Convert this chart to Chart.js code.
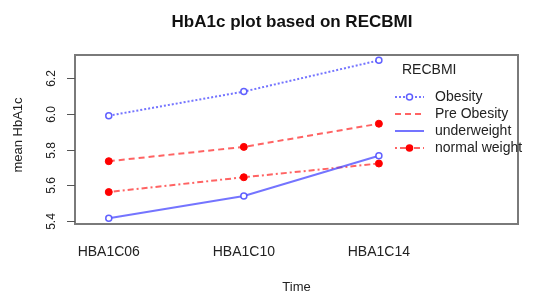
<!DOCTYPE html>
<html>
<head>
<meta charset="utf-8">
<script src="https://cdn.jsdelivr.net/npm/chart.js@4.4.1/dist/chart.umd.min.js"></script>
<style>
  html, body { margin: 0; padding: 0; background: #fff; }
  #wrap { width: 535px; height: 299px; }
</style>
</head>
<body>
<div id="wrap"><canvas id="hba1cChart"></canvas></div>
<script>
// data
const timePoints = ["HBA1C06", "HBA1C10", "HBA1C14"];
const obesity = [5.99, 6.125, 6.30];
const preObesity = [5.735, 5.815, 5.945];
const underweight = [5.415, 5.54, 5.765];
const normalWeight = [5.562, 5.645, 5.722];
const yTicks = [5.4, 5.6, 5.8, 6.0, 6.2];

const FONT = '"Liberation Sans", Arial, sans-serif';

function toPoints(values) {
    return values.map((v, i) => ({ x: i + 1, y: v }));
}

// axes, box, titles and legend drawn the R way
const rStylePlugin = {
    id: 'rStyle',
    afterDraw(chart) {
        const ctx = chart.ctx;
        const area = chart.chartArea;
        const xs = chart.scales.x;
        const ys = chart.scales.y;
        ctx.save();

        // box
        ctx.strokeStyle = '#7a7a7a';
        ctx.lineWidth = 2;
        ctx.strokeRect(area.left, area.top, area.right - area.left, area.bottom - area.top);

        // y ticks + rotated labels
        ctx.strokeStyle = '#555';
        ctx.lineWidth = 1;
        ctx.fillStyle = '#222';
        ctx.font = '12px ' + FONT;
        ctx.textAlign = 'center';
        ctx.textBaseline = 'middle';
        yTicks.forEach(t => {
            const py = Math.round(ys.getPixelForValue(t)) + 0.5;
            ctx.beginPath();
            ctx.moveTo(area.left - 8, py);
            ctx.lineTo(area.left, py);
            ctx.stroke();
            ctx.save();
            ctx.translate(area.left - 23, py);
            ctx.rotate(-Math.PI / 2);
            ctx.fillText(t.toFixed(1), 0, 0);
            ctx.restore();
        });

        // x labels, no tick marks
        ctx.font = '14px ' + FONT;
        timePoints.forEach((lab, i) => {
            ctx.fillText(lab, xs.getPixelForValue(i + 1), 252);
        });

        // axis titles
        ctx.font = '13px ' + FONT;
        ctx.fillText('Time', (area.left + area.right) / 2, 287);
        ctx.save();
        ctx.translate(18, 135);
        ctx.rotate(-Math.PI / 2);
        ctx.fillText('mean HbA1c', 0, 0);
        ctx.restore();

        // main title
        ctx.font = 'bold 17px ' + FONT;
        ctx.fillStyle = '#111';
        ctx.fillText('HbA1c plot based on RECBMI', 292, 22);

        // legend
        ctx.fillStyle = '#222';
        ctx.font = '14px ' + FONT;
        ctx.textAlign = 'left';
        ctx.fillText('RECBMI', 402, 70);
        chart.data.datasets.forEach((ds, i) => {
            const ly = 97 + i * 17;
            ctx.save();
            ctx.strokeStyle = ds.borderColor;
            ctx.lineWidth = ds.borderWidth;
            ctx.setLineDash(ds.borderDash || []);
            ctx.beginPath();
            ctx.moveTo(395, ly);
            ctx.lineTo(424, ly);
            ctx.stroke();
            ctx.restore();
            if (ds.legendMarker) {
                ctx.save();
                ctx.beginPath();
                ctx.arc(409.5, ly, 3, 0, Math.PI * 2);
                ctx.fillStyle = ds.pointBackgroundColor;
                ctx.fill();
                ctx.strokeStyle = ds.pointBorderColor;
                ctx.lineWidth = 1.5;
                ctx.stroke();
                ctx.restore();
            }
            ctx.fillStyle = '#222';
            ctx.fillText(ds.label, 435, ly);
        });
        ctx.restore();
    }
};

const blueLine = 'rgba(70, 70, 255, 0.75)';
const blueDot = 'rgba(80, 80, 255, 0.9)';
const redLine = 'rgba(255, 60, 60, 0.8)';
const redDot = '#ff0000';

new Chart(document.getElementById('hba1cChart').getContext('2d'), {
    type: 'line',
    data: {
        datasets: [
            {
                label: 'Obesity',
                data: toPoints(obesity),
                borderColor: blueLine,
                borderWidth: 2,
                borderDash: [2, 2],
                pointBackgroundColor: '#fff',
                pointBorderColor: blueDot,
                pointBorderWidth: 1.5,
                pointRadius: 3,
                legendMarker: true
            },
            {
                label: 'Pre Obesity',
                data: toPoints(preObesity),
                borderColor: redLine,
                borderWidth: 2,
                borderDash: [6, 4],
                pointBackgroundColor: redDot,
                pointBorderColor: redDot,
                pointBorderWidth: 1,
                pointRadius: 3.5,
                legendMarker: false
            },
            {
                label: 'underweight',
                data: toPoints(underweight),
                borderColor: blueLine,
                borderWidth: 2,
                borderDash: [],
                pointBackgroundColor: '#fff',
                pointBorderColor: blueDot,
                pointBorderWidth: 1.5,
                pointRadius: 3,
                legendMarker: false
            },
            {
                label: 'normal weight',
                data: toPoints(normalWeight),
                borderColor: redLine,
                borderWidth: 2,
                borderDash: [2, 3, 6, 3],
                pointBackgroundColor: redDot,
                pointBorderColor: redDot,
                pointBorderWidth: 1,
                pointRadius: 3.5,
                legendMarker: true
            }
        ]
    },
    options: {
        responsive: true,
        maintainAspectRatio: false,
        animation: false,
        layout: {
            padding: { left: 75, right: 17, top: 55, bottom: 75 }
        },
        plugins: {
            legend: { display: false },
            title: { display: false },
            tooltip: { enabled: false }
        },
        scales: {
            x: {
                type: 'linear',
                display: false,
                min: 0.75,
                max: 4.03
            },
            y: {
                display: false,
                min: 5.383,
                max: 6.33
            }
        }
    },
    plugins: [rStylePlugin]
});
</script>
</body>
</html>
